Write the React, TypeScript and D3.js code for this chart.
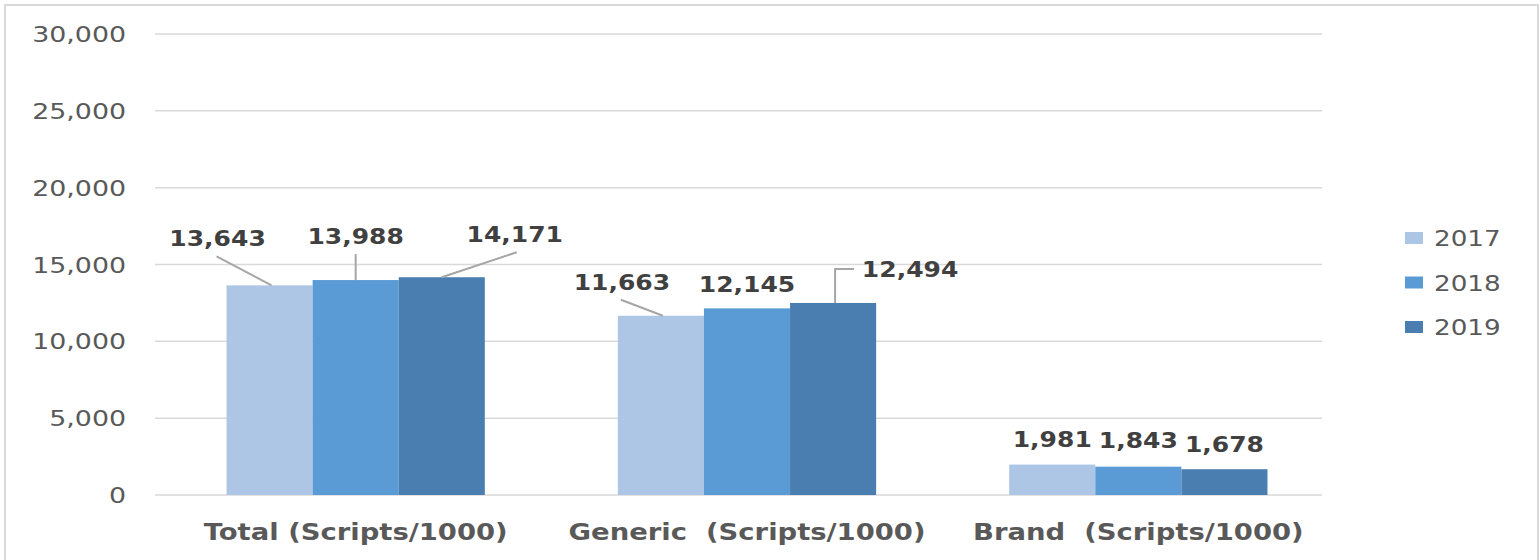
import React from "react";
import * as d3 from "d3";

const categories = ["Total (Scripts/1000)", "Generic  (Scripts/1000)", "Brand  (Scripts/1000)"];
const years = ["2017", "2018", "2019"];
const values2017 = [13643, 11663, 1981];
const values2018 = [13988, 12145, 1843];
const values2019 = [14171, 12494, 1678];
const yTicks = [0, 5000, 10000, 15000, 20000, 25000, 30000];
const colors = ["#aec6e6", "#5b9bd5", "#4a7eb0"];

// label offsets (relative to bar top centre): [dx, dy], plus leader line type
const labelOffsets = [
  [[-52, -39, "diag"], [0, -36, "vert"], [73, -35, "diag"]],
  [[-39, -26, "diag"], [0, -16, "none"], [77, -26, "elbow"]],
  [[0, -18, "none"], [0, -19, "none"], [0, -17, "none"]],
];

const W = 1540;
const H = 560;
const SX = 1.22;

function Txt({ x, y, anchor = "middle", size, weight = "normal", fill, children }: any) {
  return (
    <text
      transform={`translate(${x},${y}) scale(${SX},1)`}
      textAnchor={anchor}
      fontSize={size}
      fontWeight={weight}
      fill={fill}
      fontFamily="DejaVu Sans, Verdana, sans-serif"
    >
      {children}
    </text>
  );
}

export default function App() {
  const series = [values2017, values2018, values2019];
  const y = d3.scaleLinear().domain([0, 30000]).range([495, 34]);
  const x0 = d3.scaleBand<string>().domain(categories).range([160, 1334]).paddingInner(0.34).paddingOuter(0.17);
  const x1 = d3.scaleBand<string>().domain(years).range([0, x0.bandwidth()]).padding(0);
  const fmt = d3.format(",");

  return (
    <svg width={W} height={H} style={{ position: "absolute", left: 0, top: 0, background: "#fff" }}>
      <rect x={0} y={0} width={W} height={H} fill="#fff" />
      <rect x={5} y={5} width={1533} height={H + 10} fill="#fff" stroke="#d9d9d9" strokeWidth={2} />
      {yTicks.map((t) => (
        <g key={t}>
          <line x1={155} x2={1322} y1={y(t)} y2={y(t)} stroke="#d9d9d9" strokeWidth={1.5} />
          <Txt x={126} y={y(t) + 8} anchor="end" size={22} fill="#595959">
            {fmt(t)}
          </Txt>
        </g>
      ))}
      {categories.map((c, ci) => (
        <g key={c}>
          {years.map((yr, si) => {
            const v = series[si][ci];
            const bx = (x0(c) as number) + (x1(yr) as number);
            return (
              <rect key={yr} x={bx} y={y(v)} width={x1.bandwidth()} height={y(0) - y(v)} fill={colors[si]} />
            );
          })}
          <Txt x={(x0(c) as number) + x0.bandwidth() / 2} y={540} size={22.5} weight="bold" fill="#595959">
            {c.replace(/ /g, "\u00a0")}
          </Txt>
        </g>
      ))}
      {categories.map((c, ci) =>
        years.map((yr, si) => {
          const v = series[si][ci];
          const cx = (x0(c) as number) + (x1(yr) as number) + x1.bandwidth() / 2;
          const top = y(v);
          const [dx, dy, kind] = labelOffsets[ci][si] as [number, number, string];
          const lx = cx + dx;
          const ly = top + dy;
          let leader = null;
          if (kind === "diag") {
            leader = <line x1={lx + (dx < 0 ? -1 : 2)} y1={ly + 10} x2={cx + (dx < 0 ? 2 : 0)} y2={top} stroke="#a6a6a6" strokeWidth={2} />;
          } else if (kind === "vert") {
            leader = <line x1={cx} y1={ly + 10} x2={cx} y2={top} stroke="#a6a6a6" strokeWidth={2} />;
          } else if (kind === "elbow") {
            leader = (
              <polyline
                points={`${lx - 56},${ly - 8} ${cx + 2},${ly - 8} ${cx + 2},${top}`}
                fill="none"
                stroke="#a6a6a6"
                strokeWidth={2}
              />
            );
          }
          return (
            <g key={`${c}-${yr}`}>
              {leader}
              <Txt x={lx} y={ly} size={20.5} weight="bold" fill="#404040">
                {fmt(v)}
              </Txt>
            </g>
          );
        })
      )}
      {years.map((yr, i) => (
        <g key={yr} transform={`translate(1405, ${238 + i * 44.5})`}>
          <rect x={0} y={-6} width={18} height={12} fill={colors[i]} />
          <Txt x={29} y={8} anchor="start" size={21.5} fill="#595959">
            {yr}
          </Txt>
        </g>
      ))}
    </svg>
  );
}
